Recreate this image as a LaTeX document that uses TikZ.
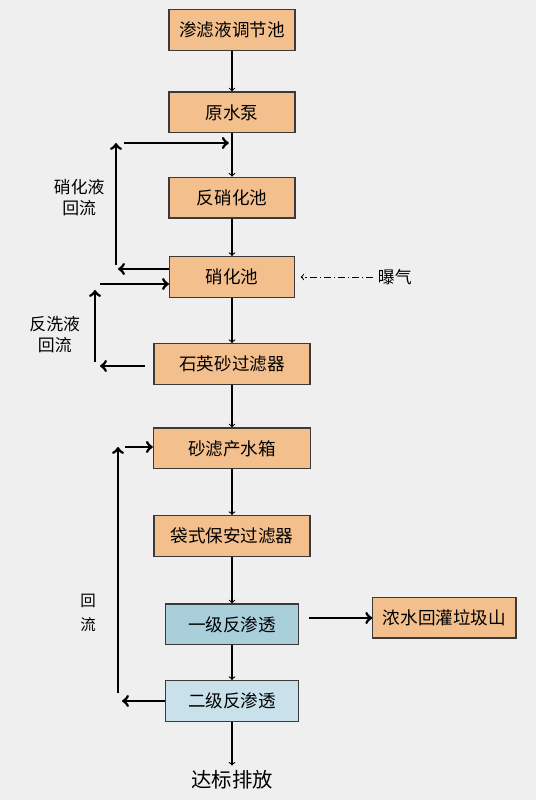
\documentclass[tikz,border=0pt]{standalone}
\usepackage{fontspec}
\setmainfont{Noto Sans CJK SC}
\usepackage{tikz}
\usetikzlibrary{arrows, positioning}
\usepackage{color}
\definecolor{bgcol}{HTML}{EFEFEF}
\definecolor{orangebox}{HTML}{F3BF8D}
\definecolor{bluebox}{HTML}{A9CFDA}
\definecolor{lightbox}{HTML}{C8E1EA}
\definecolor{edgecol}{HTML}{3A3A3A}

\begin{document}
\begin{tikzpicture}
  [box/.style={rectangle, draw=edgecol, thick, minimum height=1.02cm, inner sep=2pt,
     font=\fontsize{12.5}{15}\selectfont},
   unit/.style={box, fill=orangebox},
   membrane/.style={box, fill=bluebox},
   membrane2/.style={box, fill=lightbox},
   label/.style={align=center, font=\fontsize{12}{15}\selectfont},
   flow/.style={->, line width=0.8pt},
   back/.style={->, line width=2pt}]
  \fill [bgcol] (0, 0) rectangle (13.4, 20);
  \useasboundingbox (0, 0) rectangle (13.4, 20);
  % main column
  \node (n1) at (5.8, 19.25) [unit, minimum width=3.15cm] {渗滤液调节池};
  \node (n2) at (5.8, 17.19) [unit, minimum width=3.15cm] {原水泵};
  \node (n3) at (5.8, 15.06) [unit, minimum width=3.15cm] {反硝化池};
  \node (n4) at (5.8, 13.075) [unit, minimum width=3.125cm] {硝化池};
  \node (n5) at (5.8, 10.9) [unit, minimum width=3.9cm] {石英砂过滤器};
  \node (n6) at (5.8, 8.79) [unit, minimum width=3.93cm] {砂滤产水箱};
  \node (n7) at (5.8, 6.6) [unit, minimum width=3.9cm] {袋式保安过滤器};
  \node (n8) at (5.8, 4.39) [membrane, minimum width=3.33cm] {一级反渗透};
  \node (n9) at (5.8, 2.475) [membrane2, minimum width=3.33cm] {二级反渗透};
  \node (n10) at (11.11, 4.56) [unit, minimum width=3.58cm] {浓水回灌垃圾山};
  \node (out) at (5.8, 0.5) [font=\fontsize{14.5}{17}\selectfont] {达标排放};
  \node (qi) at (9.87, 13.075) [label] {曝气};
  \foreach \a/\b in {n1/n2, n2/n3, n3/n4, n4/n5, n5/n6, n6/n7, n7/n8, n8/n9, n9/out}
    \draw [flow] (\a) to (\b);
  \draw [->, line width=0.7pt, dash pattern=on 5pt off 2pt on 1pt off 2pt, shorten >=4pt]
    (qi) to (n4);
  % nitrified liquor return
  \coordinate (r1a) at (2.95, 13.275);
  \coordinate (r1b) at (2.9, 13.375);
  \coordinate (r1c) at (2.9, 16.425);
  \coordinate (r1d) at (3.1, 16.425);
  \coordinate (r1e) at (5.72, 16.425);
  \draw [back] ([yshift=0.2cm]n4.west) to (r1a);
  \draw [back] (r1b) to (r1c);
  \draw [back] (r1d) to (r1e);
  \node (l1) at (1.98, 15.07) [label] {硝化液\\回流};
  % backwash return
  \coordinate (r2a) at (3.62, 10.85);
  \coordinate (r2b) at (2.5, 10.85);
  \coordinate (r2c) at (2.375, 10.95);
  \coordinate (r2d) at (2.375, 12.75);
  \coordinate (r2e) at (2.5, 12.9);
  \draw [back] (r2a) to (r2b);
  \draw [back] (r2c) to (r2d);
  \draw [back] (r2e) to (r2e -| n4.west);
  \node (l2) at (1.37, 11.63) [label] {反洗液\\回流};
  % RO return
  \coordinate (r3a) at (3.05, 2.475);
  \coordinate (r3b) at (2.95, 2.675);
  \coordinate (r3c) at (2.95, 8.825);
  \coordinate (r3d) at (3.125, 8.825);
  \draw [back] (n9) to (r3a);
  \draw [back] (r3b) to (r3c);
  \draw [back] (r3d) to (r3d -| n6.west);
  \node (l3) at (2.2, 4.68) [label, font=\fontsize{11}{17}\selectfont] {回\\流};
  % concentrate
  \coordinate (r4) at (7.725, 4.55);
  \draw [back] (r4) to (r4 -| n10.west);
\end{tikzpicture}
\end{document}
